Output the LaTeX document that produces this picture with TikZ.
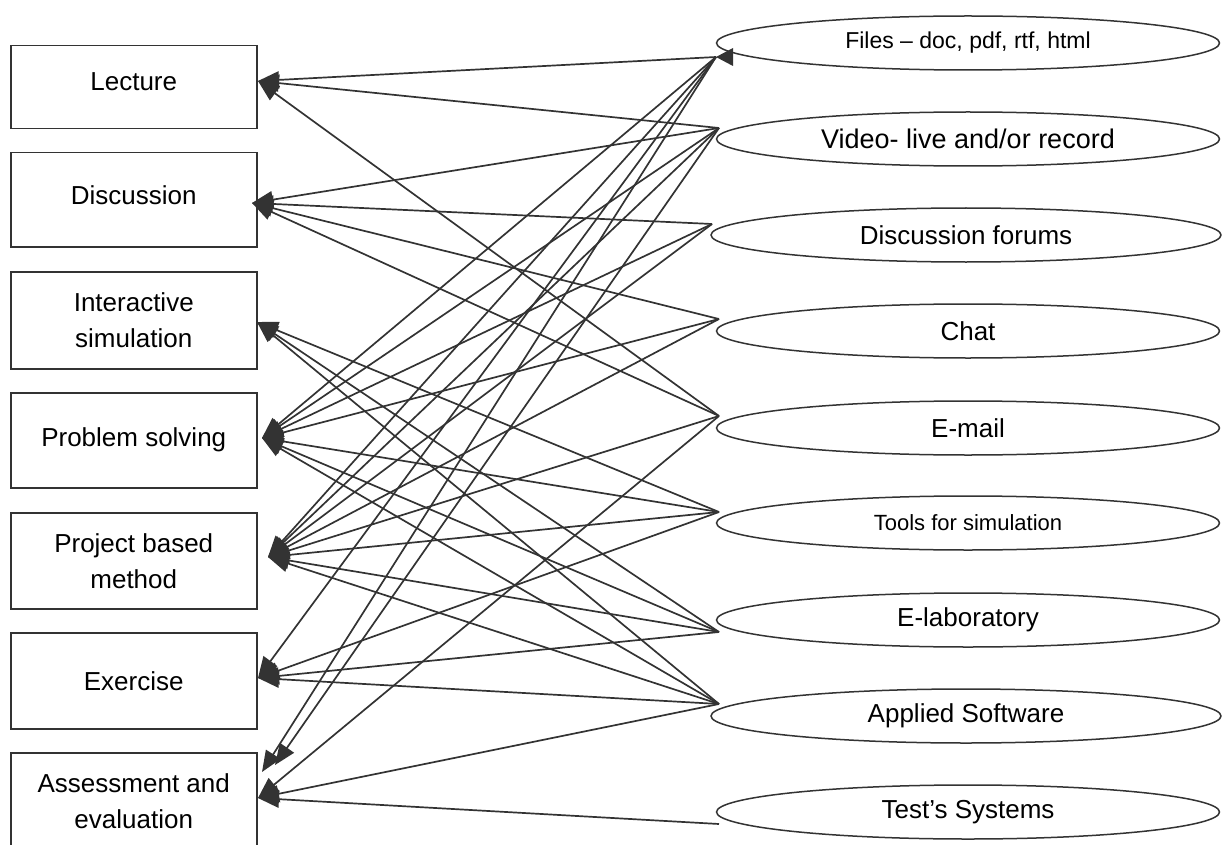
\documentclass[tikz,border=0pt]{standalone}
\usepackage{fontspec}
\setmainfont{Liberation Sans}
\usetikzlibrary{shapes.geometric,arrows.meta}
\definecolor{ink}{HTML}{333333}
\begin{document}
\begin{tikzpicture}[x=1pt,y=-1pt,
  box/.style={draw=ink, line width=1.5pt, minimum width=246pt, anchor=north west, inner sep=0pt, align=center, font=\fontsize{26}{36}\selectfont},
  ell/.style={draw=ink, ellipse, line width=1.5pt, inner sep=0pt, minimum height=54pt},
  lab/.style={font=\fontsize{26}{36}\selectfont, text=black},
  con/.style={draw=ink, line width=1.7pt, -{Triangle[length=21pt,width=17pt]}},
]
\useasboundingbox (0,0) rectangle (1223,845);
% left boxes
\node[box, minimum height=83pt, text depth=12pt] (lec) at (10,45) {Lecture};
\node[box, minimum height=94pt, text depth=10pt] (dis) at (10,152) {Discussion};
\node[box, minimum height=97pt] (int) at (10,271) {Interactive\\simulation};
\node[box, minimum height=95pt] (ps) at (10,392) {Problem solving};
\node[box, minimum height=96pt] (pb) at (10,512) {Project based\\method};
\node[box, minimum height=96pt] (ex) at (10,632) {Exercise};
\node[box, minimum height=110pt, text depth=14pt] (as) at (10,752) {Assessment and\\evaluation};
% right ellipses
\node[ell, minimum width=503pt] (files) at (968,43) {};
\node[ell, minimum width=503pt] (video) at (968,139) {};
\node[ell, minimum width=510pt] (forum) at (966,235) {};
\node[ell, minimum width=503pt] (chat) at (968,331) {};
\node[ell, minimum width=503pt] (mail) at (968,428) {};
\node[ell, minimum width=503pt] (tools) at (968,523) {};
\node[ell, minimum width=503pt] (elab) at (968,620) {};
\node[ell, minimum width=510pt] (appl) at (966,716) {};
\node[ell, minimum width=503pt] (test) at (968,812) {};
\node[lab, font=\fontsize{23}{28}\selectfont] at (files) {Files – doc, pdf, rtf, html};
\node[lab, font=\fontsize{27}{32}\selectfont] at (video) {Video- live and/or record};
\node[lab] at (forum) {Discussion forums};
\node[lab] at (chat) {Chat};
\node[lab] at (mail) {E-mail};
\node[lab, font=\fontsize{22}{26}\selectfont] at (tools) {Tools for simulation};
\node[lab] at (elab) {E-laboratory};
\node[lab] at (appl) {Applied Software};
\node[lab] at (test) {Test’s Systems};
% connector ends
\coordinate (rF) at (716,57);
\coordinate (rV) at (719,128);
\coordinate (rD) at (712,224);
\coordinate (rC) at (719,319);
\coordinate (rE) at (719,416);
\coordinate (rT) at (719,512);
\coordinate (rL) at (719,632);
\coordinate (rA) at (719,704);
\coordinate (rS) at (719,824);
\coordinate (lLec) at (258,81);
\coordinate (lDis) at (252,203);
\coordinate (lInt) at (257,322);
\coordinate (lPs) at (262,438);
\coordinate (lPb) at (268,557);
\coordinate (lEx) at (258,678);
\coordinate (lAsF) at (262,772);
\coordinate (lAsV) at (275,765);
\coordinate (lAs) at (258,798);
\foreach \s/\t in {rF/lLec, rF/lPs, rF/lPb, rF/lEx, rF/lAsF,
  rV/lLec, rV/lDis, rV/lPs, rV/lPb, rV/lAsV,
  rD/lDis, rD/lPs, rD/lPb,
  rC/lDis, rC/lPs, rC/lPb,
  rE/lLec, rE/lDis, rE/lPb, rE/lAs,
  rT/lInt, rT/lPs, rT/lPb, rT/lEx,
  rL/lInt, rL/lPs, rL/lPb, rL/lEx,
  rA/lInt, rA/lPs, rA/lPb, rA/lEx, rA/lAs,
  rS/lAs}
  \draw[con] (\s) -- (\t);
\fill[ink] (rF) -- ++(17,-9) -- ++(0,18) -- cycle;
\end{tikzpicture}
\end{document}
